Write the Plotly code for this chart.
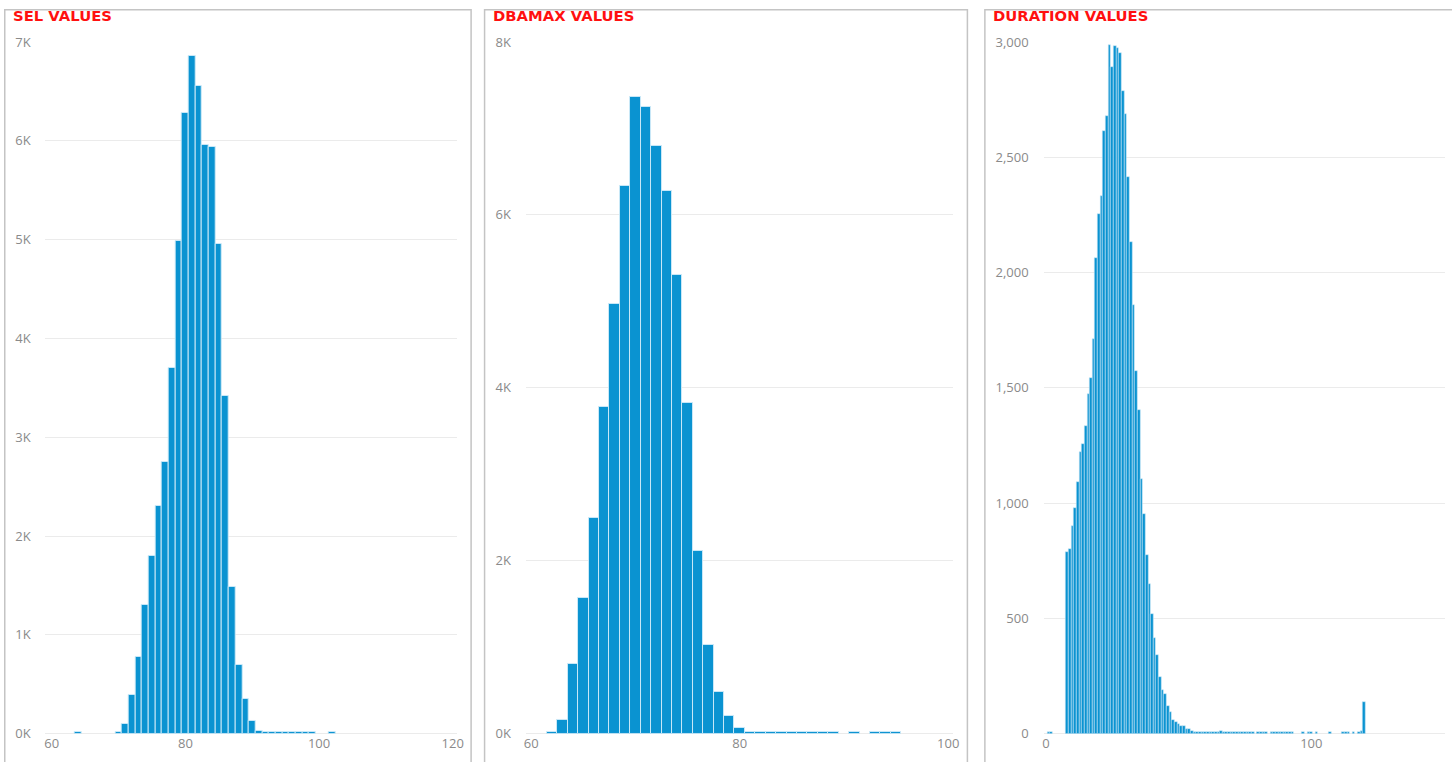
import plotly.graph_objects as go

# ---------------- data ----------------
sel_bins = [64, 70, 71, 72, 73, 74, 75, 76, 77, 78, 79, 80, 81, 82, 83, 84, 85, 86, 87, 88,
            89, 90, 91, 92, 93, 94, 95, 96, 97, 98, 99, 102]
sel_counts = [17, 17, 95, 390, 780, 1300, 1800, 2300, 2750, 3700, 4990, 6280, 6860, 6550, 5960,
              5940, 4960, 3420, 1480, 700, 350, 130, 30, 17, 17, 17, 17, 17, 17, 17, 17, 17]

dbamax_bins = [62, 63, 64, 65, 66, 67, 68, 69, 70, 71, 72, 73, 74, 75, 76, 77, 78, 79, 80,
               81, 82, 83, 84, 85, 86, 87, 88, 89, 91, 93, 94, 95]
dbamax_counts = [20, 160, 810, 1570, 2490, 3780, 4970, 6340, 7360, 7250, 6800, 6280, 5310, 3830,
                 2110, 1020, 480, 210, 65, 20, 20, 20, 20, 20, 20, 20, 20, 20, 20, 20, 20, 20]

duration_bins = [1, 2, 8, 9, 10, 11, 12, 13, 14, 15, 16, 17, 18, 19, 20, 21, 22, 23, 24, 25, 26,
                 27, 28, 29, 30, 31, 32, 33, 34, 35, 36, 37, 38, 39, 40, 41, 42, 43, 44, 45, 46,
                 47, 48, 49, 50, 51, 52, 53, 54, 55, 56, 57, 58, 59, 60, 61, 62, 63, 64, 65, 66,
                 67, 68, 69, 70, 71, 72, 73, 74, 75, 76, 77, 78, 80, 81, 82, 83, 85, 86, 87, 88,
                 89, 90, 91, 92, 93, 97, 99, 100, 102, 107, 112, 113, 114, 116, 118, 119, 120]
duration_counts = [6, 6, 790, 800, 899, 978, 1093, 1220, 1256, 1333, 1474, 1544, 1713, 2062, 2256,
                   2330, 2614, 2677, 2985, 2892, 2983, 2975, 2954, 2789, 2686, 2415, 2134, 1858,
                   1574, 1403, 1103, 951, 777, 651, 518, 417, 340, 247, 188, 171, 121, 95, 60, 51,
                   42, 33, 32, 19, 22, 13, 8, 7, 6, 6, 6, 6, 6, 6, 6, 6, 11, 6, 6, 6, 6, 6, 6, 6,
                   6, 6, 6, 6, 6, 6, 6, 6, 6, 6, 6, 6, 6, 6, 6, 6, 6, 6, 6, 6, 6, 6, 6, 6, 6, 6,
                   6, 6, 11, 136]

titles = ["SEL VALUES", "DBAMAX VALUES", "DURATION VALUES"]

sel_yticks = [0, 1000, 2000, 3000, 4000, 5000, 6000, 7000]
sel_ylabels = ["0K", "1K", "2K", "3K", "4K", "5K", "6K", "7K"]
dbamax_yticks = [0, 2000, 4000, 6000, 8000]
dbamax_ylabels = ["0K", "2K", "4K", "6K", "8K"]
duration_yticks = [0, 500, 1000, 1500, 2000, 2500, 3000]
duration_ylabels = ["0", "500", "1,000", "1,500", "2,000", "2,500", "3,000"]

sel_xticks = [60, 80, 100, 120]
dbamax_xticks = [60, 80, 100]
duration_xticks = [0, 100]

# ---------------- figure ----------------
W, H = 1452, 762
BAR = "#0A93D1"
EDGE = "rgba(205,234,248,0.95)"
GRID = "#ebebeb"
TICKFONT = dict(family="Open Sans", size=13, color="#8a8a8a")


def px(x):
    # target screen x -> paper fraction (small capture-scale correction)
    return min(1.0, ((x - 0.24) / 0.9952) / W)


def py(y):
    # target screen y -> paper fraction (capture-scale correction)
    return (H - (y - 10.1) / 0.974) / H


fig = go.Figure()
for xs, ys, xa, ya, lw in [(sel_bins, sel_counts, "x", "y", 1),
                           (dbamax_bins, dbamax_counts, "x2", "y2", 1),
                           (duration_bins, duration_counts, "x3", "y3", 0.6)]:
    fig.add_trace(go.Bar(x=xs, y=ys, xaxis=xa, yaxis=ya, width=1,
                         marker=dict(color=BAR, line=dict(color=EDGE, width=lw)),
                         showlegend=False, hoverinfo="x+y"))

ydom = [py(733), py(43)]


def xaxis(dom, rng, ticks):
    return dict(domain=dom, range=rng, tickmode="array", tickvals=ticks,
                ticktext=[str(t) for t in ticks], showgrid=False, zeroline=False,
                showline=False, ticks="", tickfont=TICKFONT, fixedrange=True)


def yaxis(anchor, rng, ticks, labels, standoff):
    return dict(domain=ydom, range=rng, anchor=anchor, tickmode="array", tickvals=ticks,
                ticktext=labels, showgrid=True, gridcolor=GRID, gridwidth=1,
                zeroline=True, zerolinecolor=GRID, zerolinewidth=1, showline=False,
                ticks="", tickfont=TICKFONT, ticklabelstandoff=standoff, fixedrange=True)


fig.update_layout(
    width=W, height=H, margin=dict(l=0, r=0, t=0, b=0),
    paper_bgcolor="white", plot_bgcolor="white", bargap=0,
    xaxis=dict(xaxis([px(43), px(456)], [58.95, 120.65], sel_xticks), anchor="y"),
    yaxis=yaxis("x", [0, 7000], sel_yticks, sel_ylabels, 13),
    xaxis2=dict(xaxis([px(525), px(953)], [59.5, 100.5], dbamax_xticks), anchor="y2"),
    yaxis2=yaxis("x2", [0, 8000], dbamax_yticks, dbamax_ylabels, 14),
    xaxis3=dict(xaxis([px(1043.3), px(1448.3)], [-0.9, 150.4], duration_xticks), anchor="y3"),
    yaxis3=yaxis("x3", [0, 3000], duration_yticks, duration_ylabels, 14),
)

# panel borders
for x0, x1 in [(3, 470), (483.5, 967), (984.5, 1480)]:
    fig.add_shape(type="rect", xref="paper", yref="paper", x0=px(x0),
                  x1=min(1.2, ((x1 - 0.24) / 0.9952) / W),
                  y0=-0.1, y1=0.999, line=dict(color="#c4c4c4", width=1.5),
                  fillcolor="rgba(0,0,0,0)", layer="below")

# panel titles
for t, x in zip(titles, [9, 489.5, 990.5]):
    fig.add_annotation(text=f"<b>{t}</b>", xref="paper", yref="paper", x=px(x), y=py(17),
                       xanchor="left", yanchor="middle", showarrow=False,
                       font=dict(family="DejaVu Sans", size=14.8, color="#ff1010"))

fig.write_html("out.html", config={"displayModeBar": False},
               post_script="document.body.style.margin='0';document.body.style.overflow='hidden';")
